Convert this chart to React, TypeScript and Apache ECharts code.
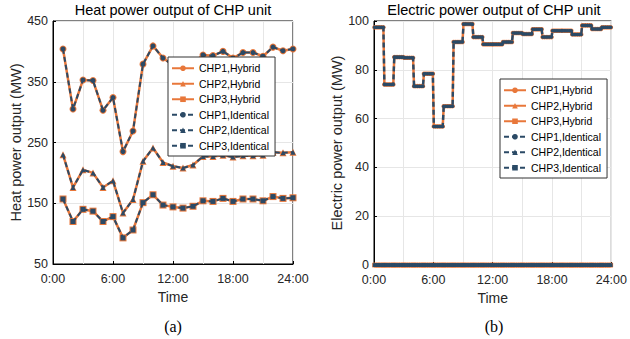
import React, { useEffect, useRef } from "react";
import * as echarts from "echarts";

// ---- data ----
const hours = [1, 2, 3, 4, 5, 6, 7, 8, 9, 10, 11, 12, 13, 14, 15, 16, 17, 18, 19, 20, 21, 22, 23, 24];
const heatCHP1 = [404, 305, 353, 352, 303, 324, 235, 269, 379, 409, 389, 377, 374, 380, 394, 393, 400, 389, 398, 398, 392, 407, 401, 404];
const heatCHP2 = [230, 176, 205, 200, 176, 187, 134, 156, 219, 241, 217, 211, 208, 213, 227, 227, 229, 226, 228, 228, 229, 234, 233, 234];
const heatCHP3 = [157, 120, 140, 137, 120, 128, 93, 106, 151, 164, 147, 144, 142, 145, 154, 153, 158, 153, 157, 157, 154, 161, 158, 159];

const elecCHP1 = [97.4, 74, 85.2, 84.9, 73.3, 78.4, 56.8, 65.1, 91.4, 98.8, 93.4, 90.5, 90.5, 91.4, 95.1, 94.7, 96.6, 93.4, 96, 96, 94.5, 98.2, 96.7, 97.4];
const elecCHP2 = [0, 0, 0, 0, 0, 0, 0, 0, 0, 0, 0, 0, 0, 0, 0, 0, 0, 0, 0, 0, 0, 0, 0, 0];
const elecCHP3 = [0, 0, 0, 0, 0, 0, 0, 0, 0, 0, 0, 0, 0, 0, 0, 0, 0, 0, 0, 0, 0, 0, 0, 0];

const seriesNames = ["CHP1,Hybrid", "CHP2,Hybrid", "CHP3,Hybrid", "CHP1,Identical", "CHP2,Identical", "CHP3,Identical"];
const xTickLabels = ["0:00", "6:00", "12:00", "18:00", "24:00"];

const ORANGE = "#E8773A";
const DARK = "#2B4A66";
const FONT = "Liberation Sans, Arial, Helvetica, sans-serif";

// each hourly value is held constant over its hour (dense samples within the hour)
const SAMPLES_PER_HOUR = 6;
function stepPoints(vals: number[]): number[][] {
  const out: number[][] = [];
  vals.forEach((v, h) => {
    for (let k = 0; k < SAMPLES_PER_HOUR; k++) {
      out.push([h + 0.05 + (k * 0.9) / (SAMPLES_PER_HOUR - 1), v]);
    }
  });
  return out;
}

function hourPoints(vals: number[]): number[][] {
  return hours.map((h, i) => [h, vals[i]]);
}

const symbols = ["circle", "triangle", "rect"];

function buildSeries(idx: number, sets: number[][][], hybridSize: number, identSize: number, hybridWidth: number, identWidth: number) {
  const s: any[] = [];
  sets.forEach((data, i) => {
    s.push({
      type: "line",
      name: seriesNames[i],
      xAxisIndex: idx,
      yAxisIndex: idx,
      data,
      symbol: symbols[i],
      symbolSize: hybridSize,
      showSymbol: true,
      showAllSymbol: true,
      lineStyle: { color: ORANGE, width: hybridWidth },
      itemStyle: { color: ORANGE },
      z: 2,
    });
  });
  sets.forEach((data, i) => {
    s.push({
      type: "line",
      name: seriesNames[i + 3],
      xAxisIndex: idx,
      yAxisIndex: idx,
      data,
      symbol: symbols[i],
      symbolSize: identSize,
      showSymbol: true,
      showAllSymbol: true,
      lineStyle: { color: DARK, width: identWidth, type: [5, 3] },
      itemStyle: { color: DARK },
      z: 3,
    });
  });
  return s;
}

function xAxisFor(idx: number) {
  return {
    type: "value",
    gridIndex: idx,
    min: 0,
    max: 24,
    interval: 6,
    name: "Time",
    nameLocation: "middle",
    nameGap: 26,
    nameTextStyle: { fontSize: 14, color: "#262626", fontFamily: FONT },
    axisLine: { show: true, lineStyle: { color: "#000", width: 1 } },
    axisTick: { show: true, inside: true, length: 3, lineStyle: { color: "#000" } },
    axisLabel: {
      fontSize: 12.5,
      color: "#262626",
      fontFamily: FONT,
      margin: 8,
      formatter: (v: number) => xTickLabels[Math.round(v / 6)] ?? "",
    },
    splitLine: { show: true, lineStyle: { color: "#E6E6E6", width: 1 } },
    minorTick: { show: false, splitNumber: 2 },
    minorSplitLine: { show: true, lineStyle: { color: "#E6E6E6", width: 1 } },
  };
}

function yAxisFor(idx: number, min: number, max: number, interval: number, name: string) {
  return {
    type: "value",
    gridIndex: idx,
    min,
    max,
    interval,
    name,
    nameLocation: "middle",
    nameGap: 30,
    nameTextStyle: { fontSize: 14.5, color: "#262626", fontFamily: FONT },
    axisLine: { show: true, lineStyle: { color: "#000", width: 1 } },
    axisTick: { show: true, inside: true, length: 3, lineStyle: { color: "#000" } },
    axisLabel: { fontSize: 12.5, color: "#262626", fontFamily: FONT, margin: 5 },
    splitLine: { show: true, lineStyle: { color: "#E6E6E6", width: 1 } },
  };
}

function legendAt(left: number, top: number) {
  return {
    left,
    top,
    orient: "vertical",
    padding: [5, 6, 4, 3],
    itemGap: 3,
    itemWidth: 22,
    itemHeight: 7,
    backgroundColor: "#fff",
    borderColor: "#333",
    borderWidth: 1,
    borderRadius: 0,
    textStyle: { fontSize: 10.5, color: "#000", fontFamily: FONT, lineHeight: 12.5 },
    data: seriesNames,
    selectedMode: false,
  };
}

export default function App() {
  const ref = useRef<HTMLDivElement>(null);

  useEffect(() => {
    if (!ref.current) return;
    const chart = echarts.init(ref.current, undefined, { renderer: "svg" });
    const heatSets = [hourPoints(heatCHP1), hourPoints(heatCHP2), hourPoints(heatCHP3)];
    const elecSets = [stepPoints(elecCHP1), stepPoints(elecCHP2), stepPoints(elecCHP3)];
    const option: any = {
      animation: false,
      backgroundColor: "#fff",
      textStyle: { fontFamily: FONT },
      grid: [
        { left: 53, top: 21, width: 240, height: 243, show: true, borderColor: "#000", borderWidth: 1, backgroundColor: "transparent" },
        { left: 374, top: 21, width: 241, height: 244, show: true, borderColor: "#000", borderWidth: 1, backgroundColor: "transparent" },
      ],
      xAxis: [xAxisFor(0), xAxisFor(1)],
      yAxis: [
        yAxisFor(0, 50, 450, 100, "Heat power output (MW)"),
        yAxisFor(1, 0, 100, 20, "Electric power output (MW)"),
      ],
      legend: [legendAt(168, 57), legendAt(500, 79)],
      series: [
        ...buildSeries(0, heatSets, 7, 5, 2.5, 2),
        ...buildSeries(1, elecSets, 4.5, 3.5, 2.5, 2.4),
      ],
      graphic: [
        { type: "text", x: 173, y: 10, style: { text: "Heat power output of CHP unit", font: `14.5px ${FONT}`, fill: "#000", textAlign: "center", textVerticalAlign: "middle", align: "center", verticalAlign: "middle" } },
        { type: "text", x: 494, y: 10, style: { text: "Electric power output of CHP unit", font: `14.5px ${FONT}`, fill: "#000", textAlign: "center", textVerticalAlign: "middle", align: "center", verticalAlign: "middle" } },
        { type: "text", x: 173, y: 326, style: { text: "(a)", font: `16px Liberation Serif, Times New Roman, serif`, fill: "#000", textAlign: "center", textVerticalAlign: "middle", align: "center", verticalAlign: "middle" } },
        { type: "text", x: 494, y: 326, style: { text: "(b)", font: `16px Liberation Serif, Times New Roman, serif`, fill: "#000", textAlign: "center", textVerticalAlign: "middle", align: "center", verticalAlign: "middle" } },
      ],
    };
    chart.setOption(option);
    return () => chart.dispose();
  }, []);

  return <div ref={ref} style={{ position: "fixed", left: 0, top: 0, width: 630, height: 339 }} />;
}
